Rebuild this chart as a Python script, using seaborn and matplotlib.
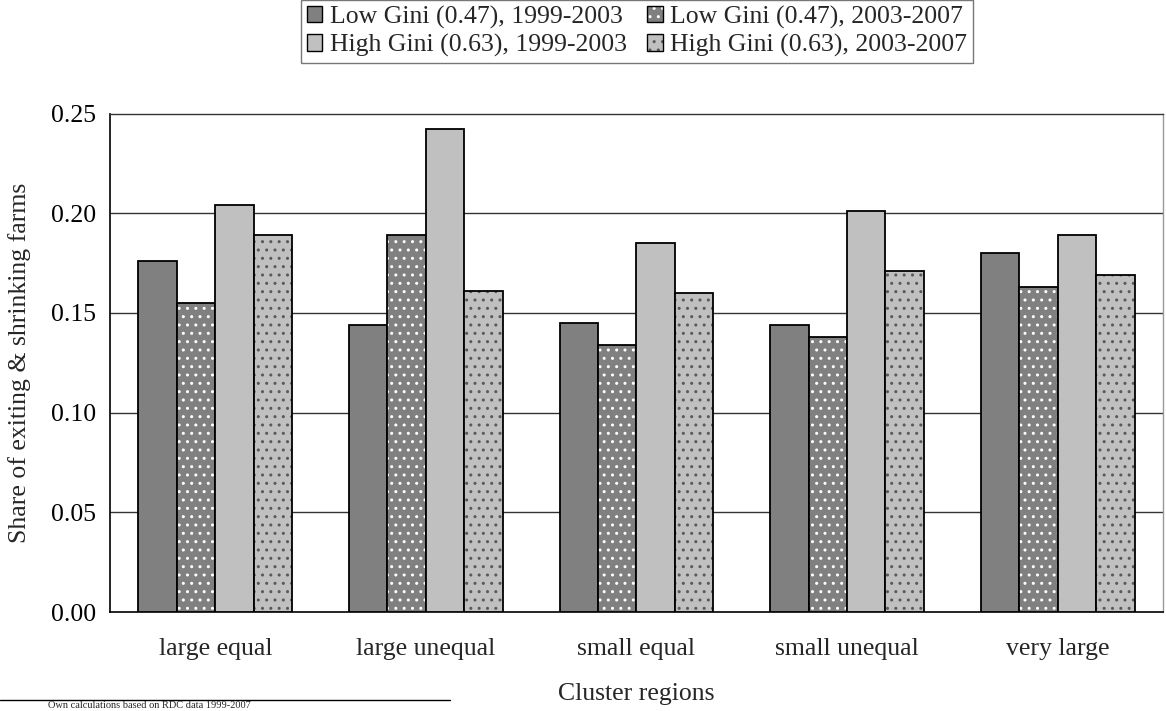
import numpy as np
import pandas as pd
import matplotlib
matplotlib.use("Agg")
import matplotlib.pyplot as plt
import seaborn as sns
from matplotlib.patches import Patch
from matplotlib.lines import Line2D

# ---- data ----
categories = ["large equal", "large unequal", "small equal", "small unequal", "very large"]
series = ["Low Gini (0.47), 1999-2003", "Low Gini (0.47), 2003-2007",
          "High Gini (0.63), 1999-2003", "High Gini (0.63), 2003-2007"]
low_1999_2003 = [0.176, 0.144, 0.145, 0.144, 0.180]
low_2003_2007 = [0.155, 0.189, 0.134, 0.138, 0.163]
high_1999_2003 = [0.204, 0.242, 0.185, 0.201, 0.189]
high_2003_2007 = [0.189, 0.161, 0.160, 0.171, 0.169]
yticks = [0.00, 0.05, 0.10, 0.15, 0.20, 0.25]
xlabel = "Cluster regions"
ylabel = "Share of exiting & shrinking farms"
footnote = "Own calculations based on RDC data 1999-2007"

values = [low_1999_2003, low_2003_2007, high_1999_2003, high_2003_2007]
df = pd.DataFrame({
    "region": [c for _ in series for c in categories],
    "series": [s for s in series for _ in categories],
    "share": [v for vals in values for v in vals],
})

# ---- style ----
sns.set_style("white")
plt.rcParams['font.family'] = ['Liberation Serif', 'DejaVu Serif']
plt.rcParams['hatch.linewidth'] = 1.0
FS = 18.5

DARK = "#808080"
LIGHT = "#c0c0c0"
palette = {series[0]: DARK, series[1]: DARK, series[2]: LIGHT, series[3]: LIGHT}
hatch_cols = {1: (1, 1, 1, 1), 3: (0.35, 0.35, 0.35, 1)}

fig = plt.figure(figsize=(11.66, 7.11), dpi=100)
ax = fig.add_axes([0.0943, 0.1392, 0.9031, 0.7011])

sns.barplot(data=df, x="region", y="share", hue="series", order=categories,
            hue_order=series, palette=palette, width=0.73, saturation=1,
            edgecolor="black", linewidth=1.3, legend=False, ax=ax, zorder=3)

for i, cont in enumerate(ax.containers):
    if i in hatch_cols:
        for p in cont:
            p.set_hatch("..")
            p._hatch_color = hatch_cols[i]

ax.set_xlim(-0.5, len(categories) - 0.5)
ax.set_ylim(0, 0.25)
ax.set_yticks(yticks)
ax.set_yticklabels([f"{t:.2f}" for t in yticks], fontsize=FS)
ax.set_xticks(range(len(categories)))
ax.set_xticklabels(categories, fontsize=FS)
ax.set_xticks(np.arange(-0.5, len(categories), 1.0), minor=True)
ax.tick_params(axis="x", which="major", length=0, pad=19)
ax.tick_params(axis="x", which="minor", length=6, width=1, direction="out", colors="black")
ax.tick_params(axis="y", which="major", length=6, width=1, direction="out", pad=4, colors="black")

for t in yticks[1:-1]:
    ax.axhline(t, color="#333333", lw=1.0, zorder=1)

for side in ["left", "bottom"]:
    ax.spines[side].set_visible(True)
    ax.spines[side].set_color("black")
    ax.spines[side].set_linewidth(1.2)
ax.spines["top"].set_color("#333333")
ax.spines["top"].set_linewidth(1.0)
ax.spines["right"].set_color("#999999")
ax.spines["right"].set_linewidth(1.0)

ax.set_xlabel(xlabel, fontsize=FS)
ax.xaxis.set_label_coords(0.5, -0.143)
ax.set_ylabel(ylabel, fontsize=FS)
ax.yaxis.set_label_coords(-0.075, 0.5)

# ---- legend ----
handles = []
for i, s in enumerate(series):
    h = Patch(facecolor=palette[s], edgecolor="black", linewidth=1.0,
              hatch=".." if i in hatch_cols else None, label=s)
    if i in hatch_cols:
        h._hatch_color = hatch_cols[i]
    handles.append(h)
order = [0, 2, 1, 3]
leg = fig.legend([handles[i] for i in order], [series[i] for i in order], ncol=2,
                 loc="upper center", bbox_to_anchor=(0.5463, 1.0), fontsize=FS,
                 frameon=True, fancybox=False, edgecolor="#555555",
                 handlelength=0.6, handleheight=0.6, handletextpad=0.3,
                 columnspacing=0.8, borderpad=0.22, labelspacing=0.2,
                 borderaxespad=0)
leg.get_frame().set_linewidth(1.0)

# ---- footnote ----
fig.add_artist(Line2D([0, 450 / 1166], [1 - 700 / 711, 1 - 700 / 711],
                      transform=fig.transFigure, color="black", lw=1.0))
fig.text(48 / 1166, 1 - 701 / 711, footnote, fontsize=7.5, va="top", ha="left")

fig.savefig("out.png", dpi=100)
